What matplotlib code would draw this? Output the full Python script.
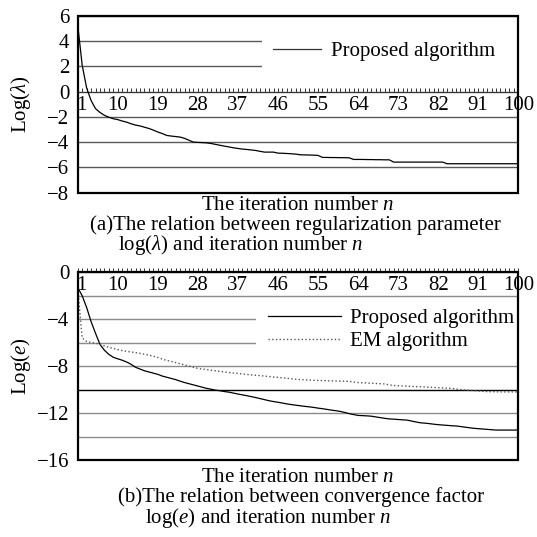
import matplotlib
matplotlib.use('Agg')
import matplotlib.pyplot as plt
from matplotlib.patches import Rectangle
from matplotlib.lines import Line2D
from matplotlib.transforms import blended_transform_factory, ScaledTranslation

plt.rcParams['font.family'] = ['Liberation Serif', 'DejaVu Serif']
plt.rcParams['mathtext.fontset'] = 'custom'
plt.rcParams['mathtext.rm'] = 'Liberation Serif'
plt.rcParams['mathtext.it'] = 'Liberation Serif:italic'

# ---------------- data ----------------
iterations = list(range(1, 101))
x_label_ticks = [1, 10, 19, 28, 37, 46, 55, 64, 73, 82, 91, 100]

log_lambda = [
    5.3, 2.1, 0.3, -0.7, -1.35, -1.65, -1.88, -2.03, -2.15, -2.22,
    -2.33, -2.42, -2.55, -2.65, -2.72, -2.82, -2.92, -3.05, -3.2, -3.32,
    -3.47, -3.52, -3.56, -3.6, -3.7, -3.85, -4.0, -4.02, -4.04, -4.06,
    -4.11, -4.18, -4.25, -4.32, -4.38, -4.45, -4.5, -4.55, -4.58, -4.62,
    -4.66, -4.73, -4.79, -4.79, -4.79, -4.87, -4.88, -4.9, -4.92, -4.95,
    -5.0, -5.01, -5.02, -5.03, -5.05, -5.21, -5.21, -5.22, -5.22, -5.23,
    -5.23, -5.24, -5.37, -5.37, -5.37, -5.38, -5.38, -5.39, -5.39, -5.4,
    -5.4, -5.58, -5.58, -5.58, -5.58, -5.58, -5.58, -5.58, -5.58, -5.58,
    -5.58, -5.58, -5.58, -5.71, -5.71, -5.71, -5.71, -5.71, -5.71, -5.71,
    -5.71, -5.71, -5.71, -5.71, -5.71, -5.71, -5.71, -5.71, -5.71, -5.71,
]

log_e_proposed = [
    -1.3, -2.0, -3.0, -4.2, -5.2, -6.15, -6.65, -7.0, -7.25, -7.38,
    -7.5, -7.65, -7.85, -8.1, -8.25, -8.4, -8.5, -8.6, -8.7, -8.85,
    -8.95, -9.05, -9.15, -9.28, -9.4, -9.5, -9.6, -9.7, -9.8, -9.9,
    -9.97, -10.05, -10.1, -10.17, -10.22, -10.3, -10.38, -10.45, -10.52, -10.6,
    -10.68, -10.77, -10.86, -10.95, -11.02, -11.08, -11.15, -11.22, -11.28, -11.33,
    -11.38, -11.43, -11.47, -11.52, -11.58, -11.63, -11.69, -11.75, -11.8, -11.86,
    -11.95, -12.05, -12.13, -12.2, -12.22, -12.24, -12.27, -12.33, -12.39, -12.45,
    -12.5, -12.52, -12.55, -12.58, -12.6, -12.68, -12.76, -12.83, -12.86, -12.9,
    -12.95, -12.99, -13.02, -13.05, -13.08, -13.1, -13.15, -13.2, -13.25, -13.3,
    -13.33, -13.36, -13.39, -13.42, -13.45, -13.45, -13.45, -13.45, -13.45, -13.45,
]

log_e_em = [
    -1.3, -5.6, -5.9, -5.98, -6.05, -6.15, -6.28, -6.4, -6.5, -6.6,
    -6.68, -6.74, -6.8, -6.85, -6.92, -7.0, -7.07, -7.15, -7.27, -7.4,
    -7.52, -7.6, -7.7, -7.8, -7.9, -8.0, -8.1, -8.2, -8.25, -8.3,
    -8.35, -8.4, -8.45, -8.5, -8.55, -8.59, -8.63, -8.67, -8.71, -8.75,
    -8.78, -8.81, -8.85, -8.89, -8.93, -8.96, -9.0, -9.04, -9.08, -9.12,
    -9.15, -9.17, -9.19, -9.21, -9.22, -9.23, -9.25, -9.26, -9.27, -9.28,
    -9.29, -9.3, -9.35, -9.4, -9.42, -9.44, -9.46, -9.48, -9.5, -9.52,
    -9.6, -9.65, -9.67, -9.69, -9.71, -9.73, -9.75, -9.76, -9.78, -9.8,
    -9.82, -9.84, -9.86, -9.88, -9.9, -9.95, -10.0, -10.03, -10.06, -10.09,
    -10.12, -10.15, -10.17, -10.18, -10.19, -10.2, -10.2, -10.2, -10.2, -10.2,
]

top_yticks = [6, 4, 2, 0, -2, -4, -6, -8]
bottom_major_yticks = [0, -4, -8, -12, -16]
bottom_minor_yticks = [-2, -6, -10, -14]

FS = 15
W = H = 537


def rect(l, t, r, b):
    return [l / W, 1 - b / H, (r - l) / W, (b - t) / H]


fig = plt.figure(figsize=(5.37, 5.37), dpi=100)
ax1 = fig.add_axes(rect(77.7, 15.7, 518.3, 192.7))
ax2 = fig.add_axes(rect(77.7, 272.2, 518.3, 460.0))


def style_axes(ax, ylim):
    ax.set_xlim(1, 100)
    ax.set_ylim(*ylim)
    for s in ['top', 'left', 'right']:
        ax.spines[s].set_visible(False)
    ax.spines['bottom'].set_position(('data', 0))
    ax.spines['bottom'].set_linewidth(0.7)
    ax.spines['bottom'].set_color('#333333')
    ax.set_xticks(iterations)
    ax.set_xticklabels([str(n) if n in x_label_ticks else '' for n in iterations],
                       fontsize=FS)
    ax.tick_params(axis='x', direction='in', length=3, width=0.7,
                   color='#333333', pad=3)
    ax.tick_params(axis='y', length=0, pad=6, labelsize=FS)
    # nudge the first category label to the right, as in the reference
    first = ax.get_xticklabels()[0]
    first.set_transform(first.get_transform() +
                        ScaledTranslation(4 / 100, 0, fig.dpi_scale_trans))
    ax.add_patch(Rectangle((0, 0), 1, 1, transform=ax.transAxes, fill=False,
                           edgecolor='black', linewidth=1.6, zorder=5,
                           clip_on=False))


# ---------------- top panel ----------------
style_axes(ax1, (-8, 6))
ax1.set_yticks(top_yticks)
ax1.yaxis.grid(True, color='#5a5a5a', linewidth=1.0)
ax1.plot(iterations, log_lambda, color='black', linewidth=0.9, zorder=3)
tr1 = blended_transform_factory(ax1.transAxes, ax1.transData)
ax1.add_patch(Rectangle((0.418, 1.0), 0.582, 4.0, transform=tr1,
                        facecolor='white', edgecolor='none', zorder=1.8))
h1 = [Line2D([], [], color='#333333', linewidth=0.9)]
ax1.legend(h1, ['Proposed algorithm'], loc='center left',
           bbox_to_anchor=((273 - 77.7) / 440.6, (192.7 - 51.7) / 177.0),
           frameon=False, fontsize=FS, handlelength=2.3, handletextpad=0.5,
           borderpad=0, borderaxespad=0)
ax1.set_ylabel(r'Log($\lambda$)', fontsize=FS, va='center', ha='center')
ax1.yaxis.set_label_coords(-0.128, 0.5)
ax1.set_xlabel(r'The iteration number $n$', fontsize=FS, va='center', ha='center')
ax1.xaxis.set_label_coords(0.5, (192.7 - 206) / 177.0)

# ---------------- bottom panel ----------------
style_axes(ax2, (-16, 0))
ax2.set_yticks(bottom_major_yticks)
ax2.set_yticks(bottom_minor_yticks, minor=True)
ax2.tick_params(axis='y', which='minor', length=0)
ax2.yaxis.grid(True, which='both', color='#8c8c8c', linewidth=1.0)
for loc, t in zip(bottom_minor_yticks, ax2.yaxis.get_minor_ticks()):
    if loc == -10:
        t.gridline.set_color('black')
ax2.plot(iterations, log_e_proposed, color='black', linewidth=0.9, zorder=3,
         label='Proposed algorithm')
ax2.plot(iterations, log_e_em, color='#555555', linewidth=1.0, linestyle=':',
         zorder=3, label='EM algorithm')
tr2 = blended_transform_factory(ax2.transAxes, ax2.transData)
ax2.add_patch(Rectangle((0.405, -7.0), 0.595, 4.0, transform=tr2,
                        facecolor='white', edgecolor='none', zorder=1.8))
ax2.legend(loc='center left',
           bbox_to_anchor=((268 - 77.7) / 440.6, (460 - 329.7) / 187.8),
           frameon=False, fontsize=FS, handlelength=3.5, handletextpad=0.45,
           labelspacing=0.15, borderpad=0, borderaxespad=0)
ax2.set_ylabel(r'Log($e$)', fontsize=FS, va='center', ha='center')
ax2.yaxis.set_label_coords(-0.128, 0.5)
ax2.set_xlabel(r'The iteration number $n$', fontsize=FS, va='center', ha='center')
ax2.xaxis.set_label_coords(0.5, (460 - 478) / 187.8)

# ---------------- captions ----------------
fig.text(90 / W, 1 - 225 / H, '(a)The relation between regularization parameter',
         fontsize=FS, ha='left', va='center')
fig.text(118 / W, 1 - 245 / H, r'log($\lambda$) and iteration number $n$',
         fontsize=FS, ha='left', va='center')
fig.text(118 / W, 1 - 497 / H, '(b)The relation between convergence factor',
         fontsize=FS, ha='left', va='center')
fig.text(145 / W, 1 - 518 / H, r'log($e$) and iteration number $n$',
         fontsize=FS, ha='left', va='center')

fig.savefig('out.png', dpi=100)
